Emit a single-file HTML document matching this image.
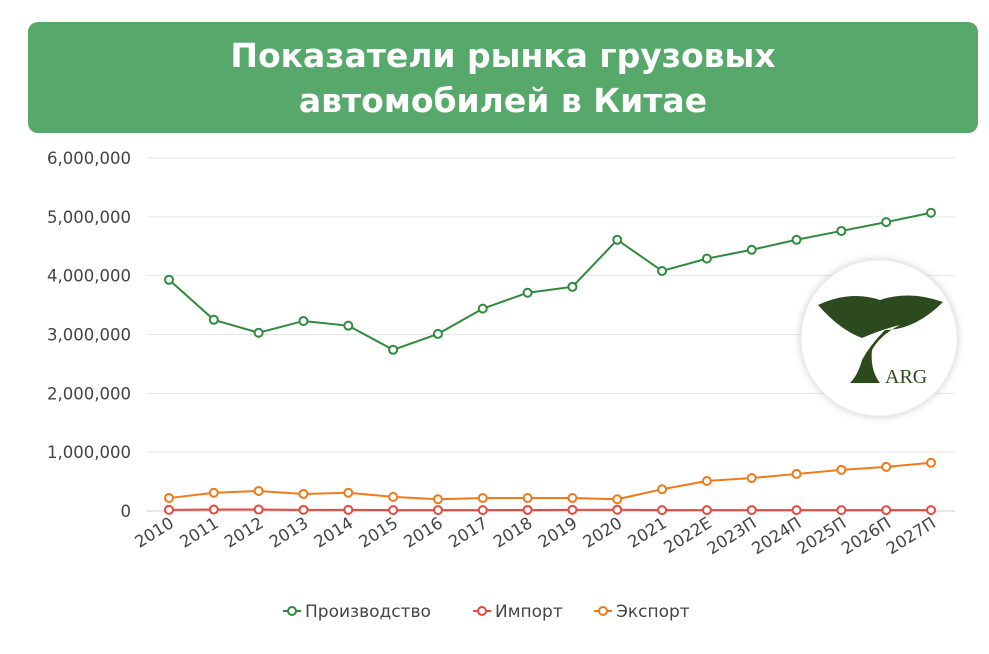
<!DOCTYPE html>
<html><head><meta charset="utf-8">
<style>
body{margin:0;width:989px;height:654px;background:#fff;font-family:"DejaVu Sans","Liberation Sans",sans-serif;overflow:hidden;position:relative}
#title{position:absolute;left:28px;top:22px;width:950px;height:111px;background:#57a86b;border-radius:10px;color:#fff;font-weight:bold;font-size:33px;line-height:45px;text-align:center;display:flex;align-items:center;justify-content:center}
svg{position:absolute;left:0;top:0;font-family:"DejaVu Sans","Liberation Sans",sans-serif}
</style></head><body>
<div id="title">Показатели рынка грузовых<br>автомобилей в Китае</div>
<svg id="chart" width="989" height="654"></svg>
<script>
const categories=["2010","2011","2012","2013","2014","2015","2016","2017","2018","2019","2020","2021","2022E","2023П","2024П","2025П","2026П","2027П"];
const production=[3930000,3250000,3030000,3230000,3150000,2740000,3010000,3440000,3710000,3810000,4610000,4080000,4290000,4440000,4610000,4760000,4910000,5070000];
const importVals=[20000,25000,25000,20000,20000,15000,15000,15000,18000,20000,22000,15000,15000,15000,15000,15000,15000,15000];
const exportVals=[220000,310000,340000,290000,310000,240000,200000,220000,220000,220000,200000,370000,510000,560000,630000,700000,750000,820000];
const yTicks=[0,1000000,2000000,3000000,4000000,5000000,6000000];
const NS="http://www.w3.org/2000/svg";
const svg=document.getElementById('chart');
const x0=169,step=(931-169)/17,yBase=511,yTop=158;
function xs(i){return x0+i*step;}
function ys(v){return yBase-(v/6000000)*(yBase-yTop);}
function el(t,a){const e=document.createElementNS(NS,t);for(const k in a)e.setAttribute(k,a[k]);svg.appendChild(e);return e;}
yTicks.forEach(v=>{
  const g=el('line',{x1:147,x2:955,y1:ys(v),y2:ys(v),stroke:v===0?'#ccc':'#e6e6e6','stroke-width':1});
  
  
  const t=el('text',{x:131,y:ys(v)+6,'text-anchor':'end','font-size':16.5,fill:'#444'});
  t.textContent=v.toLocaleString('en-US');
  
  
});
categories.forEach((c,i)=>{
  const x=xs(i)+6,y=526;
  const t=el('text',{x:x,y:y,'text-anchor':'end','font-size':16.5,fill:'#444',transform:`rotate(-32 ${x} ${y})`});
  t.textContent=c;
  
  
});
const lg=el('circle',{cx:879,cy:338,r:78,fill:'#fff',stroke:'#eee','stroke-width':1,style:'filter:drop-shadow(0 0 4px rgba(0,0,0,0.2))'});


const tree=el('path',{d:'M818 305 Q850 290 880 300 Q910 290 943 302 Q915 330 885 330 Q870 345 862 360 Q858 375 850 383 L880 383 Q870 370 872 350 Q880 335 900 325 Q880 330 862 338 Q840 330 818 305 Z',fill:'#2d4a1e'});


const lt=el('text',{x:885,y:383,'font-size':20,fill:'#2d4a1e','font-family':'Liberation Serif, serif'});
lt.textContent='ARG';


function series(vals,color,name){
  const p=el('polyline',{points:vals.map((v,i)=>xs(i)+','+ys(v)).join(' '),fill:'none',stroke:color,'stroke-width':2});
  
  
  vals.forEach((v,i)=>{
    const c=el('circle',{cx:xs(i),cy:ys(v),r:4,fill:'#fff',stroke:color,'stroke-width':2});
    
    
  });
}
series(exportVals,'#f07a1a','export');
series(importVals,'#e8483f','import');
series(production,'#2e8b3e','production');
const leg=[['Производство','#2e8b3e',283],['Импорт','#e8483f',473],['Экспорт','#f07a1a',594]];
leg.forEach(([n,c,x])=>{
  el('line',{x1:x,x2:x+18,y1:611,y2:611,stroke:c,'stroke-width':2});
  const cc=el('circle',{cx:x+9,cy:611,r:4,fill:'#fff',stroke:c,'stroke-width':2});
  
  
  const t=el('text',{x:x+22,y:617,'font-size':17,fill:'#444'});
  t.textContent=n;
  
  
});
</script>
</body></html>
